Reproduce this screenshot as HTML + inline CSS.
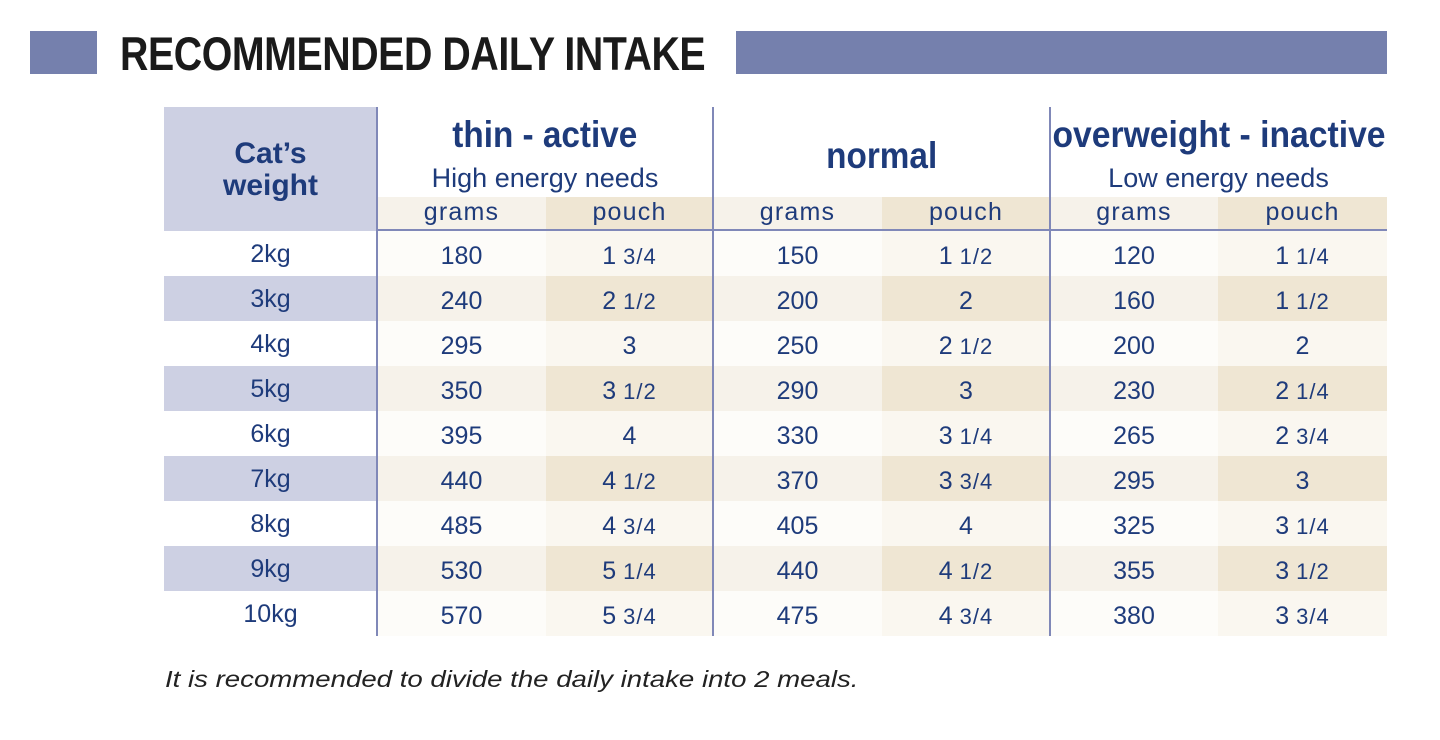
<!DOCTYPE html>
<html><head><meta charset="utf-8"><style>
html,body{margin:0;padding:0;background:#fff;width:1440px;height:740px;overflow:hidden;position:relative;font-family:"Liberation Sans",sans-serif;color:#1e3b7b}
.abs{position:absolute}
.bar{position:absolute;background:#7580ad}
.title{position:absolute;left:120px;top:26px;font-weight:bold;font-size:47px;color:#1a1a1a;transform:scaleX(0.836);transform-origin:left top;white-space:nowrap;letter-spacing:-0.5px}
.c{position:absolute;display:flex;align-items:center;justify-content:center;white-space:nowrap}
.sx{display:inline-block;transform:scaleX(0.88)}
table{position:absolute;left:164px;top:231px;border-collapse:collapse;table-layout:fixed}
td{height:45px;padding:0;text-align:center;font-size:25px;white-space:nowrap;padding-top:5px;box-sizing:border-box}
tr.o td.w{background:#fff} tr.o td.g{background:#fdfcf9} tr.o td.p{background:#faf7f0}
tr.e td.w{background:#cdd0e3} tr.e td.g{background:#f6f2ea} tr.e td.p{background:#efe6d3}
.f{font-size:22px;letter-spacing:1px}
.vl{position:absolute;width:2px;background:#8088b8}
.sub{font-size:25px;letter-spacing:1.2px}
</style></head><body>
<div class="bar" style="left:30px;top:31px;width:67px;height:43px"></div>
<div class="bar" style="left:736px;top:31px;width:651px;height:43px"></div>
<div class="title">RECOMMENDED DAILY INTAKE</div>

<div class="abs" style="left:164px;top:107px;width:213px;height:124px;background:#cdd0e3"></div>
<div class="c" style="left:164px;top:135px;width:213px;height:70px;flex-direction:column;font-weight:bold;font-size:30px;line-height:32px"><span>Cat’s</span><span>weight</span></div>

<div class="abs" style="left:377px;top:197px;width:169px;height:33px;background:#f6f2ea"></div>
<div class="abs" style="left:546px;top:197px;width:167px;height:33px;background:#efe6d3"></div>
<div class="abs" style="left:713px;top:197px;width:169px;height:33px;background:#f6f2ea"></div>
<div class="abs" style="left:882px;top:197px;width:168px;height:33px;background:#efe6d3"></div>
<div class="abs" style="left:1050px;top:197px;width:168px;height:33px;background:#f6f2ea"></div>
<div class="abs" style="left:1218px;top:197px;width:169px;height:33px;background:#efe6d3"></div>

<div class="c" style="left:377px;top:113px;width:336px;height:44px;font-weight:bold;font-size:37px"><span class="sx" style="transform:scaleX(0.9)">thin - active</span></div>
<div class="c" style="left:377px;top:160px;width:336px;height:36px;font-size:27px"><span class="sx" style="transform:scaleX(1.0)">High energy needs</span></div>
<div class="c" style="left:713px;top:134px;width:337px;height:44px;font-weight:bold;font-size:37px"><span class="sx" style="transform:scaleX(0.9)">normal</span></div>
<div class="c" style="left:1050px;top:113px;width:337px;height:44px;font-weight:bold;font-size:37px"><span class="sx" style="transform:scaleX(0.91)">overweight - inactive</span></div>
<div class="c" style="left:1050px;top:160px;width:337px;height:36px;font-size:27px"><span class="sx" style="transform:scaleX(1.0)">Low energy needs</span></div>

<div class="c sub" style="left:377px;top:197px;width:169px;height:30px">grams</div>
<div class="c sub" style="left:546px;top:197px;width:167px;height:30px">pouch</div>
<div class="c sub" style="left:713px;top:197px;width:169px;height:30px">grams</div>
<div class="c sub" style="left:882px;top:197px;width:168px;height:30px">pouch</div>
<div class="c sub" style="left:1050px;top:197px;width:168px;height:30px">grams</div>
<div class="c sub" style="left:1218px;top:197px;width:169px;height:30px">pouch</div>

<table>
<colgroup><col style="width:213px"><col style="width:169px"><col style="width:167px"><col style="width:169px"><col style="width:168px"><col style="width:168px"><col style="width:169px"></colgroup>
<tr class="o"><td class="w" style="padding-top:2px">2kg</td><td class="g">180</td><td class="p">1 <span class="f">3/4</span></td><td class="g">150</td><td class="p">1 <span class="f">1/2</span></td><td class="g">120</td><td class="p">1 <span class="f">1/4</span></td></tr>
<tr class="e"><td class="w" style="padding-top:2px">3kg</td><td class="g">240</td><td class="p">2 <span class="f">1/2</span></td><td class="g">200</td><td class="p">2</td><td class="g">160</td><td class="p">1 <span class="f">1/2</span></td></tr>
<tr class="o"><td class="w" style="padding-top:2px">4kg</td><td class="g">295</td><td class="p">3</td><td class="g">250</td><td class="p">2 <span class="f">1/2</span></td><td class="g">200</td><td class="p">2</td></tr>
<tr class="e"><td class="w" style="padding-top:2px">5kg</td><td class="g">350</td><td class="p">3 <span class="f">1/2</span></td><td class="g">290</td><td class="p">3</td><td class="g">230</td><td class="p">2 <span class="f">1/4</span></td></tr>
<tr class="o"><td class="w" style="padding-top:2px">6kg</td><td class="g">395</td><td class="p">4</td><td class="g">330</td><td class="p">3 <span class="f">1/4</span></td><td class="g">265</td><td class="p">2 <span class="f">3/4</span></td></tr>
<tr class="e"><td class="w" style="padding-top:2px">7kg</td><td class="g">440</td><td class="p">4 <span class="f">1/2</span></td><td class="g">370</td><td class="p">3 <span class="f">3/4</span></td><td class="g">295</td><td class="p">3</td></tr>
<tr class="o"><td class="w" style="padding-top:2px">8kg</td><td class="g">485</td><td class="p">4 <span class="f">3/4</span></td><td class="g">405</td><td class="p">4</td><td class="g">325</td><td class="p">3 <span class="f">1/4</span></td></tr>
<tr class="e"><td class="w" style="padding-top:2px">9kg</td><td class="g">530</td><td class="p">5 <span class="f">1/4</span></td><td class="g">440</td><td class="p">4 <span class="f">1/2</span></td><td class="g">355</td><td class="p">3 <span class="f">1/2</span></td></tr>
<tr class="o"><td class="w" style="padding-top:2px">10kg</td><td class="g">570</td><td class="p">5 <span class="f">3/4</span></td><td class="g">475</td><td class="p">4 <span class="f">3/4</span></td><td class="g">380</td><td class="p">3 <span class="f">3/4</span></td></tr>
</table>

<div class="abs" style="left:377px;top:229px;width:1010px;height:2px;background:#8088b8"></div>
<div class="vl" style="left:376px;top:107px;height:529px"></div>
<div class="vl" style="left:712px;top:107px;height:529px"></div>
<div class="vl" style="left:1049px;top:107px;height:529px"></div>

<div class="abs" style="left:165px;top:666px;font-size:23px;font-style:italic;color:#222;white-space:nowrap;transform:scaleX(1.2);transform-origin:left top">It is recommended to divide the daily intake into 2 meals.</div>
</body></html>
